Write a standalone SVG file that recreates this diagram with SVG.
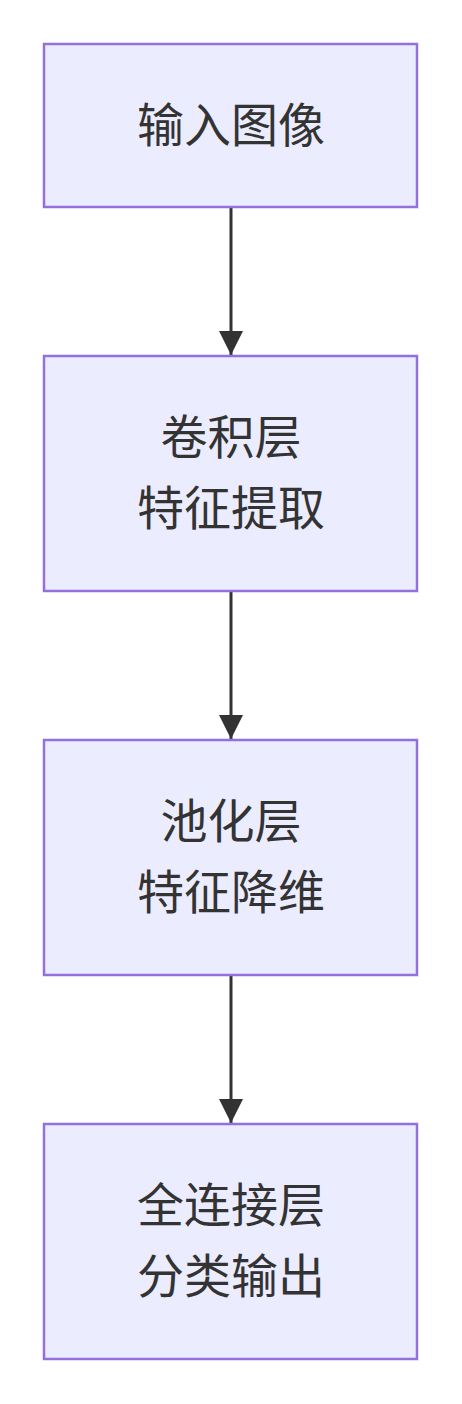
<svg xmlns="http://www.w3.org/2000/svg" width="462" height="1404" viewBox="0 0 462 1404">
<style>
.box{fill:#ECECFF;stroke:#9370DB;stroke-width:2.5}
.lbl{font-family:"Noto Sans CJK SC","Noto Sans",sans-serif;font-size:47px;fill:#333;text-anchor:middle;dominant-baseline:central}
.edge{stroke:#333;stroke-width:3;fill:none}
</style>
<defs>
<marker id="arr" markerUnits="userSpaceOnUse" markerWidth="24" markerHeight="24" refX="24" refY="12" orient="auto" viewBox="0 0 24 24">
<path d="M0,0 L24,12 L0,24 Z" fill="#333"/>
</marker>
</defs>
<rect width="462" height="1404" fill="#fff"/>
<g id="connectors">
<line class="edge" x1="231" y1="207" x2="231" y2="355" marker-end="url(#arr)"/>
<line class="edge" x1="231" y1="591" x2="231" y2="739" marker-end="url(#arr)"/>
<line class="edge" x1="231" y1="975" x2="231" y2="1123" marker-end="url(#arr)"/>
</g>
<g id="n1">
<rect class="box" x="44" y="44" width="373" height="163"/>
<text class="lbl" x="231" y="121">输入图像</text>
</g>
<g id="n2">
<rect class="box" x="44" y="356" width="373" height="235"/>
<text class="lbl" x="231" y="433">卷积层</text>
<text class="lbl" x="231" y="504">特征提取</text>
</g>
<g id="n3">
<rect class="box" x="44" y="740" width="373" height="235"/>
<text class="lbl" x="231" y="817">池化层</text>
<text class="lbl" x="231" y="888">特征降维</text>
</g>
<g id="n4">
<rect class="box" x="44" y="1124" width="373" height="235"/>
<text class="lbl" x="231" y="1201">全连接层</text>
<text class="lbl" x="231" y="1272">分类输出</text>
</g>
</svg>
